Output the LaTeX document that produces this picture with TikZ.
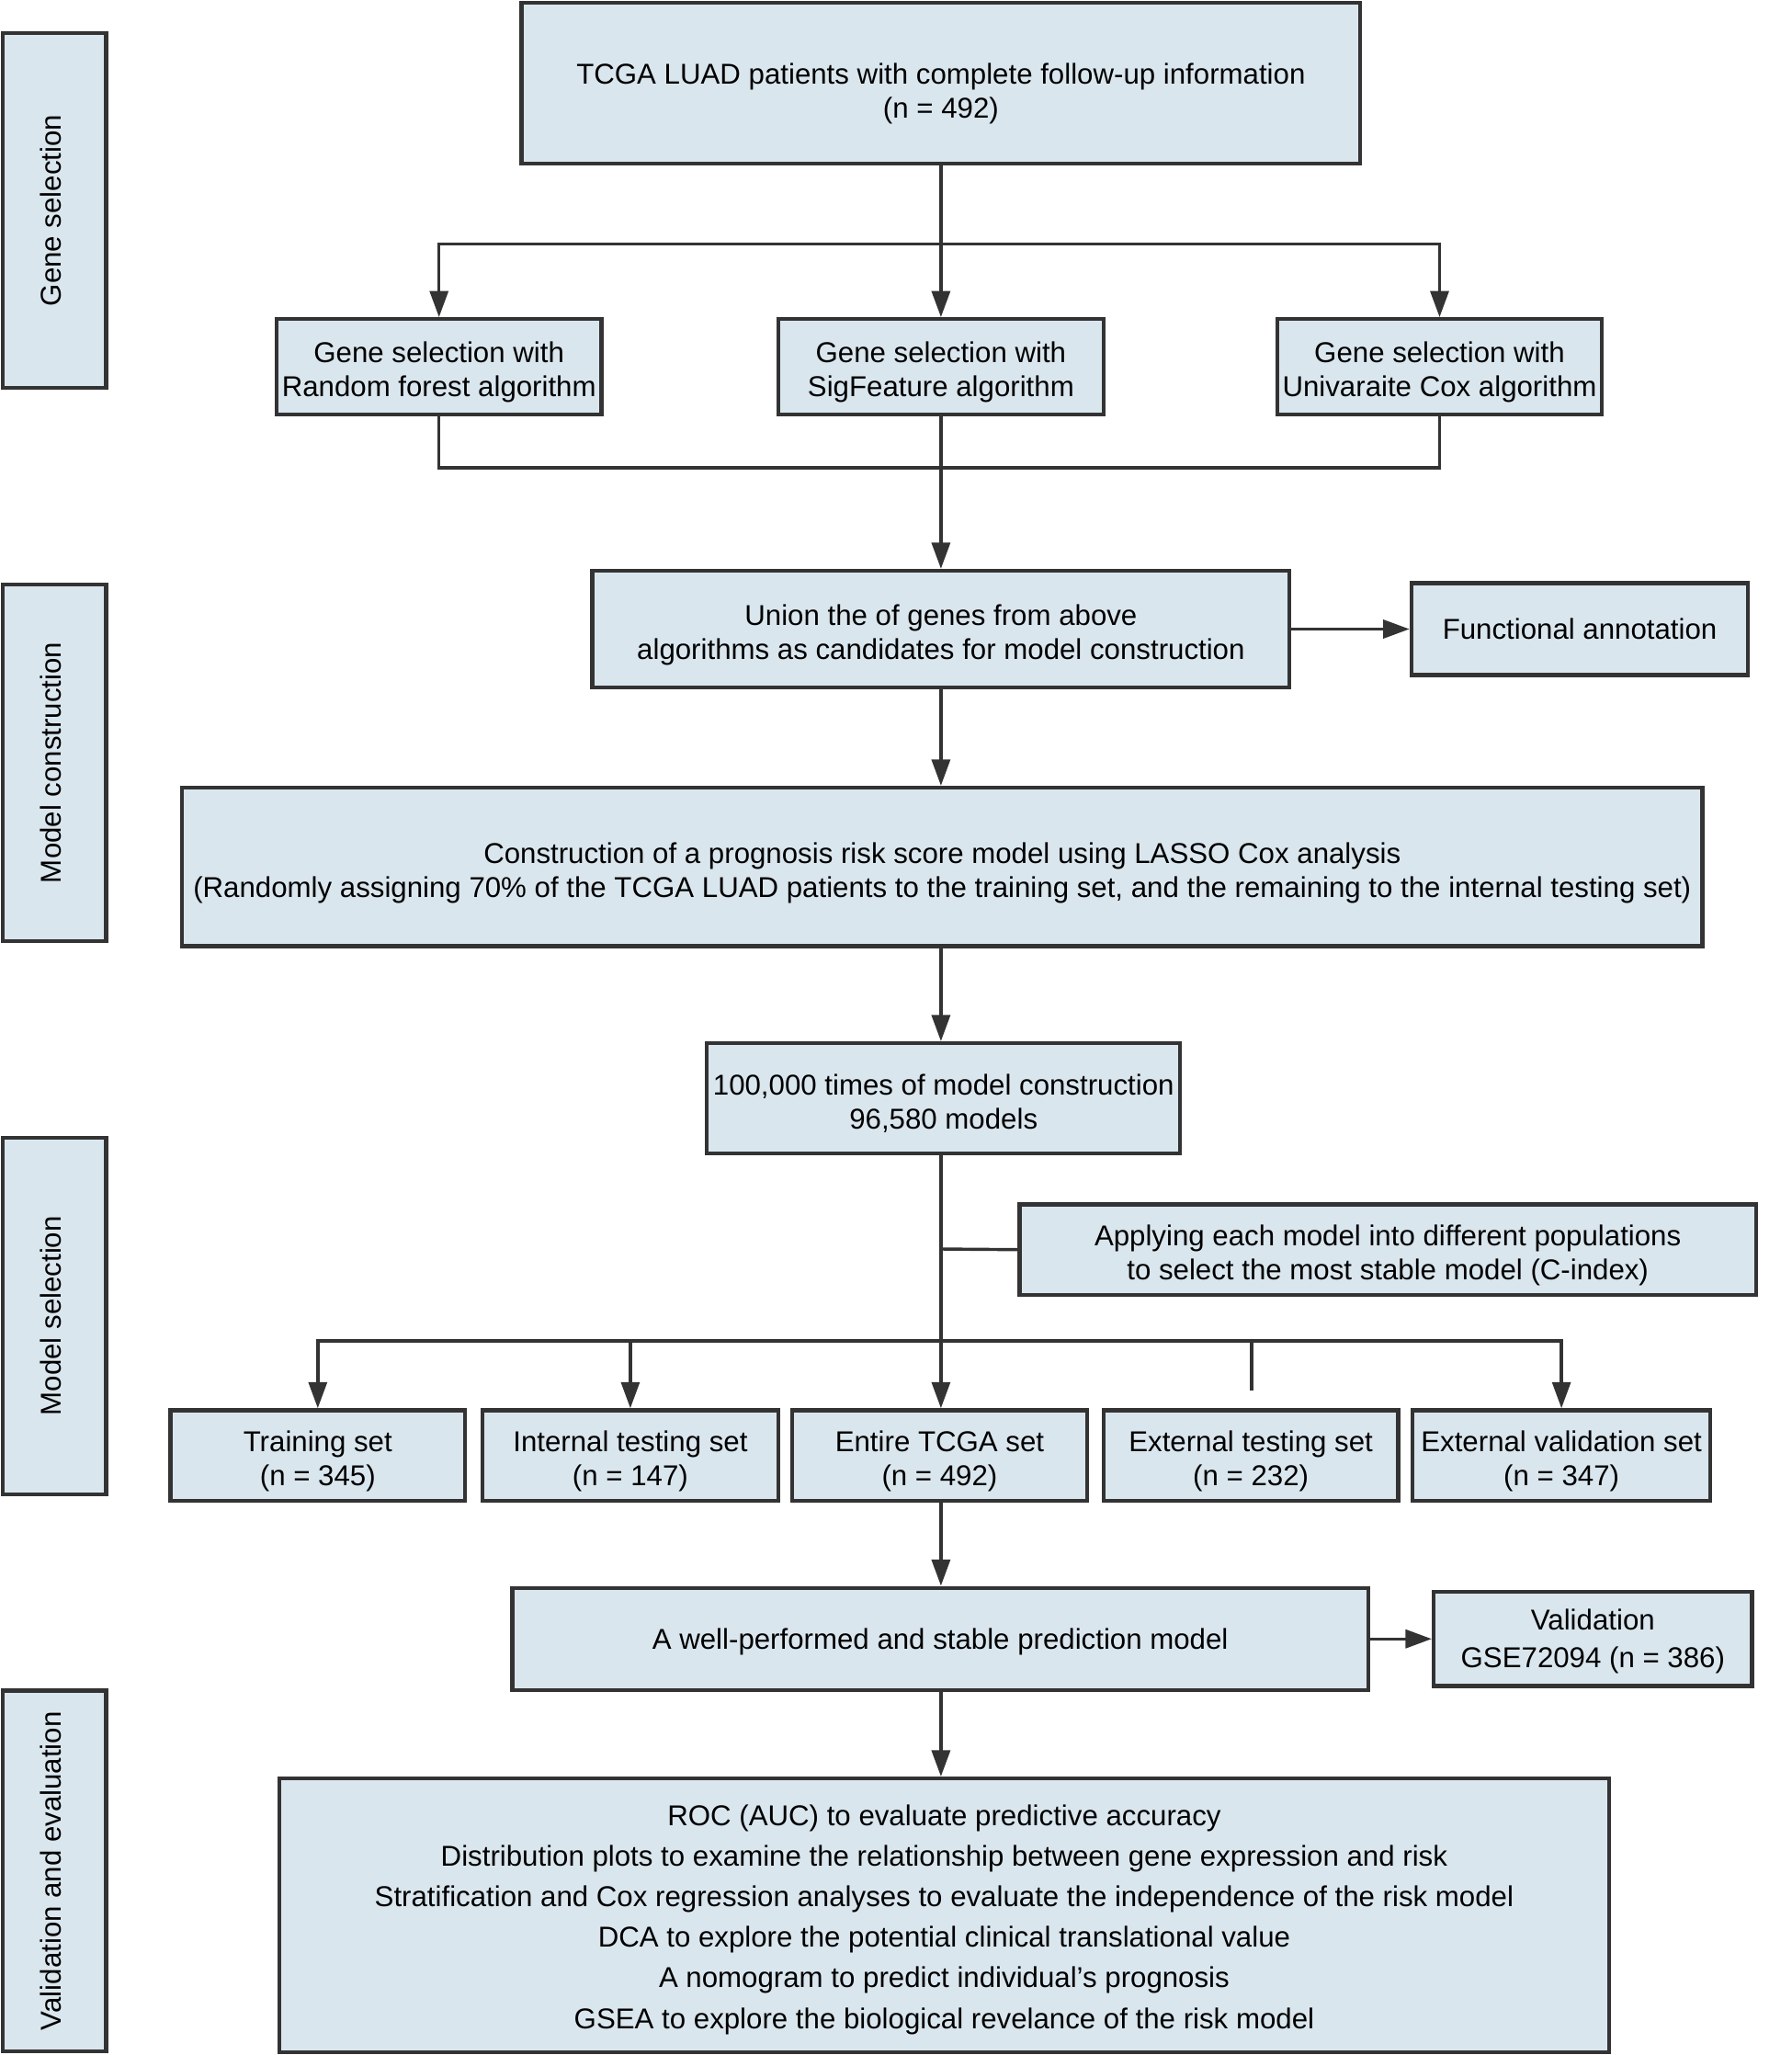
\documentclass[tikz,border=0pt]{standalone}
\usepackage{fontspec}
\setmainfont{Liberation Sans}
\usetikzlibrary{arrows.meta}
\definecolor{boxfill}{RGB}{218,230,238}
\definecolor{boxline}{RGB}{51,51,51}
\newcommand{\boxstrut}[1]{\rule{0pt}{#1}}

\begin{document}
\begin{tikzpicture}[x=0.5pt,y=-0.5pt,
	box/.style={draw=boxline,fill=boxfill,line width=1.5pt,align=center,inner sep=0pt,font=\fontsize{10.95}{13}\selectfont},
	side/.style={box,rotate=90,minimum height=39.5pt,text depth=3pt},
	arr/.style={draw=boxline,line width=1.2pt,-{Triangle[length=10pt,width=7pt]}},
	ln/.style={draw=boxline,line width=1.2pt}]
	    \useasboundingbox (0,0) rectangle (1367,1568);
	    \node[side,minimum width=135.5pt] (sgene) at (41.5,160.5) {Gene selection};
	    \node[side,minimum width=136pt] (smodel) at (41.5,582) {Model construction};
	    \node[side,minimum width=136pt] (sselect) at (41.5,1004) {Model selection};
	    \node[side,minimum width=137.5pt] (svalid) at (41.5,1427.5) {Validation and evaluation};
	    \node[box,minimum width=320pt,minimum height=61.5pt] (top) at (718,63.5) {\boxstrut{16pt}TCGA LUAD patients with complete follow-up information\\(n = 492)};
	    \node[box,minimum width=124pt,minimum height=36.5pt] (rf) at (335,280) {\boxstrut{12pt}Gene selection with\\Random forest algorithm};
	    \node[box,minimum width=124pt,minimum height=36.5pt] (sig) at (718,280) {\boxstrut{12pt}Gene selection with\\SigFeature algorithm};
	    \node[box,minimum width=124pt,minimum height=36.5pt] (cox) at (1098.5,280) {\boxstrut{12pt}Gene selection with\\Univaraite Cox algorithm};
	    \node[box,minimum width=266pt,minimum height=44.5pt] (union) at (718,480) {\boxstrut{12.5pt}Union the of genes from above\\algorithms as candidates for model construction};
	    \node[box,minimum width=128.5pt,minimum height=35pt] (func) at (1205.5,480) {Functional annotation};
	    \node[box,minimum width=580pt,minimum height=60.5pt] (lasso) at (719,661.5) {\boxstrut{12.5pt}Construction of a prognosis risk score model using LASSO Cox analysis\\(Randomly assigning 70\% of the TCGA LUAD patients to the training set, and the remaining to the internal testing set)};
	    \node[box,minimum width=180.5pt,minimum height=42pt] (hundred) at (720,838) {\boxstrut{12pt}100,000 times of model construction\\96,580 models};
	    \node[box,minimum width=281pt,minimum height=34.5pt] (apply) at (1059,953.5) {\boxstrut{12pt}Applying each model into different populations\\to select the most stable model (C-index)};
	    \node[box,minimum width=112.5pt,minimum height=34.5pt] (train) at (242.5,1110.5) {\boxstrut{12.5pt}Training set\\(n = 345)};
	    \node[box,minimum width=113pt,minimum height=34.5pt] (internal) at (481,1110.5) {\boxstrut{12.5pt}Internal testing set\\(n = 147)};
	    \node[box,minimum width=112.5pt,minimum height=34.5pt] (entire) at (717,1110.5) {\boxstrut{12.5pt}Entire TCGA set\\(n = 492)};
	    \node[box,minimum width=112.5pt,minimum height=34.5pt] (exttest) at (954.5,1110.5) {\boxstrut{12.5pt}External testing set\\(n = 232)};
	    \node[box,minimum width=113.5pt,minimum height=34.5pt] (extval) at (1191.5,1110.5) {\boxstrut{12.5pt}External validation set\\(n = 347)};
	    \node[box,minimum width=326.5pt,minimum height=39pt] (well) at (717.5,1250.5) {\boxstrut{10pt}A well-performed and stable prediction model};
	    \node[box,minimum width=121.5pt,minimum height=36pt,font=\fontsize{10.95}{14.5}\selectfont] (valid) at (1215.5,1250.5) {\boxstrut{10pt}Validation\\GSE72094 (n = 386)};
	    \node[box,minimum width=507.5pt,minimum height=104.5pt,font=\fontsize{10.95}{15.5}\selectfont] (eval) at (720.5,1461.5) {\boxstrut{11pt}ROC (AUC) to evaluate predictive accuracy\\Distribution plots to examine the relationship between gene expression and risk\\Stratification and Cox regression analyses to evaluate the independence of the risk model\\DCA to explore the potential clinical translational value\\A nomogram to predict individual’s prognosis\\GSEA to explore the biological revelance of the risk model};
	    \coordinate (split) at (718,186);
	    \coordinate (merge) at (718,357);
	    \coordinate (tap) at (718,953);
	    \coordinate (bus) at (718,1023);
	    \coordinate (stub) at (955,1061);
	    \draw[ln] (top.south) -- (split);
	    \draw[arr] (split) -| (rf.north);
	    \draw[arr] (split) -- (sig.north);
	    \draw[arr] (split) -| (cox.north);
	    \draw[ln] (rf.south) |- (merge) -| (cox.south);
	    \draw[arr] (sig.south) -- (union.north);
	    \draw[arr] (union.east) -- (func.west);
	    \draw[arr] (union.south) -- (union.south |- lasso.north);
	    \draw[arr] (union.south |- lasso.south) -- (union.south |- hundred.north);
	    \draw[ln] (tap) -- (apply.west);
	    \draw[arr] (union.south |- hundred.south) -- (union.south |- entire.north);
	    \draw[arr] (bus) -| (train.north);
	    \draw[arr] (bus) -| (internal.north);
	    \draw[arr] (bus) -| (extval.north);
	    \draw[ln] (bus) -| (stub);
	    \draw[arr] (union.south |- entire.south) -- (union.south |- well.north);
	    \draw[arr] (well.east) -- (valid.west);
	    \draw[arr] (union.south |- well.south) -- (union.south |- eval.north);
	\end{tikzpicture}
\end{document}
